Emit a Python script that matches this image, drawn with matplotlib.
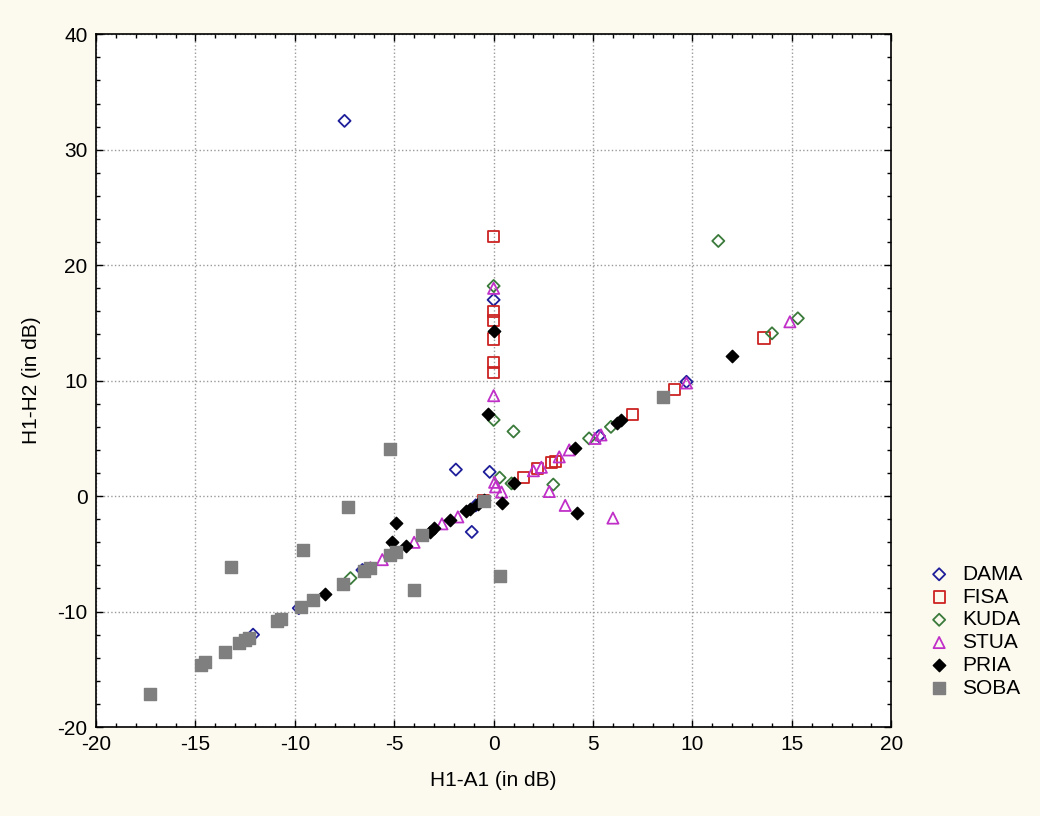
import matplotlib
matplotlib.use("Agg")
import matplotlib.pyplot as plt
from matplotlib.ticker import MultipleLocator

plt.rcParams['font.family'] = ['Liberation Sans', 'DejaVu Sans']
plt.rcParams['axes.unicode_minus'] = False

# H1-A1 / H1-H2 measurements per speaker
dama_x = [-7.5, 0.0, -1.9, -0.2, -1.1, -12.1, -9.8, -6.6, 5.3, 9.7, -0.9]
dama_y = [32.5, 17.0, 2.3, 2.1, -3.1, -12.0, -9.7, -6.4, 5.2, 9.9, -0.8]

fisa_x = [0.0, 0.0, 0.0, 0.0, 0.0, 0.0, 1.5, 2.2, 2.9, 3.1, 7.0, 9.1, 13.6, -0.5]
fisa_y = [22.5, 16.0, 15.2, 13.6, 11.6, 10.7, 1.6, 2.4, 2.9, 3.0, 7.1, 9.2, 13.7, -0.4]

kuda_x = [11.3, 0.0, 14.0, 15.3, 0.0, 1.0, 3.0, 0.3, -7.2, 5.9, 0.9, 4.8]
kuda_y = [22.1, 18.2, 14.1, 15.4, 6.6, 5.6, 1.0, 1.6, -7.1, 6.0, 1.1, 5.0]

stua_x = [0.0, 0.0, 0.1, 0.4, 2.8, 3.6, 6.0, 2.0, 2.4, 3.3, 3.8, 5.1, 5.4, 9.7,
          14.9, -1.8, -2.6, -4.0, -5.6, -6.2, 0.05]
stua_y = [18.0, 8.7, 0.8, 0.35, 0.4, -0.8, -1.9, 2.2, 2.5, 3.4, 4.0, 5.0, 5.3, 9.8,
          15.1, -1.8, -2.4, -4.0, -5.5, -6.2, 1.2]

pria_x = [0.0, -0.3, 0.4, 4.2, 12.0, 6.2, 6.4, 4.1, 1.0, -0.5, -1.2, -1.4, -2.2,
          -3.0, -4.9, -5.1, -4.4, -8.5, -3.2, -0.8]
pria_y = [14.3, 7.1, -0.6, -1.5, 12.1, 6.3, 6.6, 4.2, 1.1, -0.3, -1.1, -1.3, -2.1,
          -2.8, -2.3, -4.0, -4.3, -8.5, -3.1, -0.7]

soba_x = [-17.3, -13.2, -9.6, -7.3, -5.2, -4.0, 0.3, 8.5, -14.7, -14.5, -13.5,
          -12.8, -12.5, -12.3, -10.9, -10.7, -9.7, -9.1, -7.6, -6.5, -6.2, -5.2,
          -4.9, -3.6, -0.5]
soba_y = [-17.1, -6.1, -4.7, -0.9, 4.1, -8.1, -6.9, 8.6, -14.6, -14.4, -13.5,
          -12.7, -12.5, -12.3, -10.8, -10.6, -9.6, -9.0, -7.6, -6.5, -6.2, -5.1,
          -4.8, -3.4, -0.4]

series = [
    ("DAMA", dama_x, dama_y, dict(marker='D', s=38, facecolors='none', edgecolors='#1e1e9a', linewidths=1.3)),
    ("FISA", fisa_x, fisa_y, dict(marker='s', s=65, facecolors='none', edgecolors='#cc2222', linewidths=1.3)),
    ("KUDA", kuda_x, kuda_y, dict(marker='D', s=38, facecolors='none', edgecolors='#3a7a3a', linewidths=1.3)),
    ("STUA", stua_x, stua_y, dict(marker='^', s=65, facecolors='none', edgecolors='#c030c8', linewidths=1.3)),
    ("PRIA", pria_x, pria_y, dict(marker='D', s=40, facecolors='black', edgecolors='black', linewidths=1.0)),
    ("SOBA", soba_x, soba_y, dict(marker='s', s=65, facecolors='#7f7f7f', edgecolors='#7f7f7f', linewidths=1.0)),
]

bg = '#fcfaef'
fig = plt.figure(figsize=(10.4, 8.16), dpi=100, facecolor=bg)
ax = fig.add_axes([0.0923, 0.109, 0.7647, 0.849])
ax.set_facecolor('white')

for name, xs, ys, style in series:
    ax.scatter(xs, ys, label=name, zorder=3, **style)

ax.set_xlim(-20, 20)
ax.set_ylim(-20, 40)
ax.xaxis.set_major_locator(MultipleLocator(5))
ax.xaxis.set_minor_locator(MultipleLocator(1))
ax.yaxis.set_major_locator(MultipleLocator(10))
ax.yaxis.set_minor_locator(MultipleLocator(2))

ax.grid(True, which='major', linestyle=':', color='#9a9a9a', linewidth=1.0, zorder=0)
ax.tick_params(which='both', direction='in', top=True, right=True, colors='black')
ax.tick_params(which='major', length=5, width=1, labelsize=15, pad=6)
ax.tick_params(which='minor', length=3, width=1)
for sp in ax.spines.values():
    sp.set_linewidth(1.2)
    sp.set_color('black')

ax.set_xlabel("H1-A1 (in dB)", fontsize=15, labelpad=12)
ax.set_ylabel("H1-H2 (in dB)", fontsize=15, labelpad=12)

ax.legend(loc='lower left', bbox_to_anchor=(0.885, 0.135), bbox_transform=fig.transFigure,
          frameon=False, fontsize=15, handletextpad=0.6, labelspacing=0.18,
          borderaxespad=0, handlelength=1.0)

fig.savefig("out.png", dpi=100, facecolor=bg)
